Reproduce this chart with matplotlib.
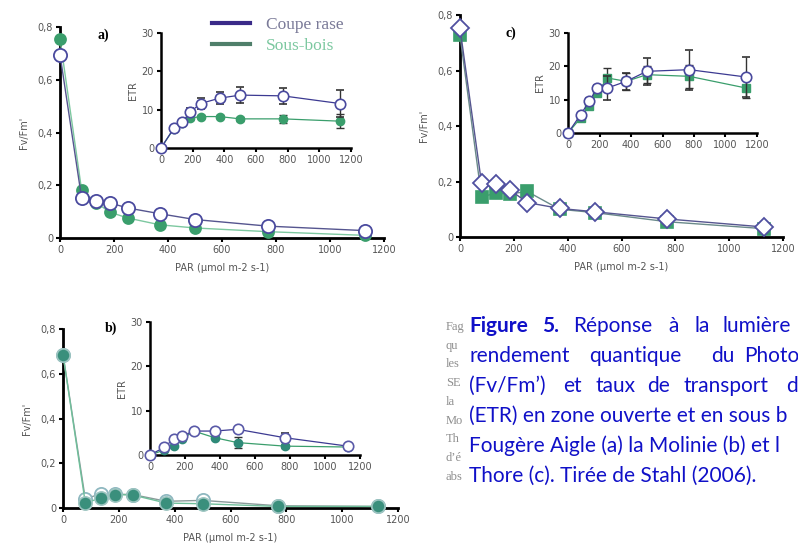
import matplotlib
matplotlib.use("Agg")
import matplotlib.pyplot as plt
import numpy as np

W, H = 798, 555

# data
par = [0, 80, 135, 185, 250, 370, 500, 770, 1130]

# a) Fougere aigle
a_fv_coupe = [0.695, 0.152, 0.14, 0.133, 0.114, 0.092, 0.07, 0.045, 0.028]
a_fv_sous = [0.755, 0.182, 0.133, 0.098, 0.076, 0.05, 0.038, 0.024, 0.01]
a_etr_coupe = [0, 5.1, 6.8, 9.4, 11.6, 13.0, 13.8, 13.6, 11.6]
a_etr_coupe_err = [0, 0.5, 0.5, 1, 1.5, 1.5, 2, 2, 3.5]
a_etr_sous = [0, 5.0, 6.5, 7.8, 8.2, 8.2, 7.6, 7.6, 7.0]
a_etr_sous_err = [0, 0.5, 0.5, 0.5, 0.5, 0.5, 0.5, 1, 1.8]

# b) Molinie
b_fv_coupe = [0.686, 0.04, 0.064, 0.062, 0.06, 0.03, 0.034, 0.01, 0.007]
b_fv_sous = [0.686, 0.022, 0.045, 0.06, 0.058, 0.022, 0.019, 0.007, 0.007]
b_etr_coupe = [0, 1.7, 3.6, 4.3, 5.4, 5.4, 5.8, 3.9, 2.0]
b_etr_coupe_err = [0, 0, 0, 0, 0, 0, 0.3, 1, 0.3]
b_etr_sous = [0, 1.1, 2.0, 3.6, 5.4, 3.9, 2.8, 2.0, 1.8]
b_etr_sous_err = [0, 0, 0, 0, 0, 0, 1.2, 0.5, 0.3]

# c) Thore
c_fv_coupe = [0.752, 0.194, 0.192, 0.17, 0.124, 0.103, 0.091, 0.065, 0.036]
c_fv_sous = [0.727, 0.145, 0.158, 0.155, 0.164, 0.1, 0.088, 0.055, 0.03]
c_etr_coupe = [0, 5.5, 9.5, 13.5, 13.5, 15.5, 18.5, 19.0, 16.8]
c_etr_coupe_err = [0, 0.5, 1, 1, 3.5, 2.5, 4, 6, 6]
c_etr_sous = [0, 4.5, 8.2, 12.0, 16.5, 15.5, 17.5, 17.0, 13.5]
c_etr_sous_err = [0, 0.5, 0.5, 1, 3, 2.5, 2.5, 3.5, 3]

fv_ticks = [0, 0.2, 0.4, 0.6, 0.8]
fv_labels = ["0", "0,2", "0,4", "0,6", "0,8"]
par_ticks = [0, 200, 400, 600, 800, 1000, 1200]
etr_ticks = [0, 10, 20, 30]

caption_words = [
    ["Figure", "5.", "Réponse", "à", "la", "lumière"],
    ["rendement", "quantique", "du", "Photo"],
    ["(Fv/Fm’)", "et", "taux", "de", "transport", "d"],
]
caption_lines = [
    "(ETR) en zone ouverte et en sous b",
    "Fougère Aigle (a) la Molinie (b) et l",
    "Thore (c). Tirée de Stahl (2006).",
]
side_words = ["Fag", "qu", "les", "SE", "la", "Mo", "Th", "d’é", "abs"]

COUPE = "#3c3a92"
SOUS = "#3a9e6c"
TICKC = "#555555"

fig = plt.figure(figsize=(W / 100, H / 100), dpi=100)


def px_axes(x0, x1, y0, y1):
    # x0/x1: pixel of xlim ends, y0: pixel of y=0, y1: pixel of top of ylim
    return fig.add_axes([x0 / W, 1 - y0 / H, (x1 - x0) / W, (y0 - y1) / H])


def style(ax, lw=2.0, fs=7):
    for s in ("top", "right"):
        ax.spines[s].set_visible(False)
    for s in ("left", "bottom"):
        ax.spines[s].set_linewidth(lw)
    ax.tick_params(direction="out", length=3, width=1.5, labelsize=fs,
                   labelcolor=TICKC, pad=2)
    ax.patch.set_alpha(0)


def main_panel(ax, fc, fs_, mk_c, mk_s, sous_col, coupe_col, line_c, line_s,
               sous_top=False, sous_edge=None):
    zs = 5 if sous_top else 3
    ax.plot(par, fs_, "-", color=line_s, lw=1, marker=mk_s,
            ms=9.5 if sous_top else 8, mfc=sous_col,
            mec=sous_edge or sous_col, mew=1.2, clip_on=False, zorder=zs)
    ax.plot(par, fc, "-", color=line_c, lw=1, marker=mk_c, ms=9.5,
            mfc="white", mec=coupe_col, mew=1.3, clip_on=False, zorder=4)
    ax.set_xlim(0, 1200)
    ax.set_ylim(0, 0.8)
    ax.set_xticks(par_ticks)
    ax.set_yticks(fv_ticks, fv_labels)
    ax.set_xlabel("PAR (µmol m-2 s-1)", fontsize=7, color=TICKC, labelpad=6)
    ax.set_ylabel("Fv/Fm'", fontsize=7, color=TICKC, labelpad=6)
    style(ax)


def inset_panel(ax, ec, ec_err, es, es_err, mk_c, mk_s, sous_col, coupe_col):
    ax.errorbar(par, es, yerr=es_err, fmt="-", color=SOUS, lw=0.9,
                marker=mk_s, ms=6, mfc=sous_col, mec=sous_col,
                ecolor="#333333", elinewidth=1, capsize=3, clip_on=False,
                zorder=3)
    ax.errorbar(par, ec, yerr=ec_err, fmt="-", color=COUPE, lw=0.9,
                marker=mk_c, ms=7.5, mfc="white", mec=coupe_col, mew=1.2,
                ecolor="#333333", elinewidth=1, capsize=3, clip_on=False,
                zorder=4)
    ax.set_xlim(0, 1200)
    ax.set_ylim(0, 30)
    ax.set_xticks(par_ticks)
    ax.set_yticks(etr_ticks)
    ax.set_ylabel("ETR", fontsize=7, color=TICKC, labelpad=3)
    style(ax, lw=1.8, fs=7)


# panel a
ax_a = px_axes(60, 384, 238, 27)
main_panel(ax_a, a_fv_coupe, a_fv_sous, "o", "o", SOUS, "#4a4a9e",
           "#55558f", "#7dc8a0")
ax_ai = px_axes(161, 351, 148, 33)
inset_panel(ax_ai, a_etr_coupe, a_etr_coupe_err, a_etr_sous, a_etr_sous_err,
            "o", "o", SOUS, "#4a4a9e")
fig.text(97 / W, 1 - 35 / H, "a)", fontsize=10, fontweight="bold",
         family="Liberation Serif", va="center")

# legend of panel a
ax_a.plot([], [], color="#3a2a88", lw=3, label="Coupe rase")
ax_a.plot([], [], color="#4f7f6a", lw=3, label="Sous-bois")
leg = fig.legend(handles=ax_a.get_lines()[-2:], loc="upper left",
                 bbox_to_anchor=(205 / W, 1 - 10 / H), frameon=False,
                 prop={"family": "Liberation Serif", "size": 12.5},
                 handlelength=2.2, handletextpad=0.9, labelspacing=0.25,
                 borderaxespad=0)
leg.get_texts()[0].set_color("#7a7a98")
leg.get_texts()[1].set_color("#7cc8a0")

# panel b
ax_b = px_axes(63, 398, 508, 329)
main_panel(ax_b, b_fv_coupe, b_fv_sous, "o", "o", "#3a8f7c", "#8fb8c0",
           "#8a9a9a", "#6fbf9a", sous_top=True, sous_edge="#9cc4c0")
ax_bi = px_axes(150, 360, 455, 322)
inset_panel(ax_bi, b_etr_coupe, b_etr_coupe_err, b_etr_sous, b_etr_sous_err,
            "o", "o", "#2f8a78", "#5a5aa8")
fig.text(105 / W, 1 - 328 / H, "b)", fontsize=10, fontweight="bold",
         family="Liberation Serif", va="center")

# panel c
ax_c = px_axes(460, 783, 237, 15)
main_panel(ax_c, c_fv_coupe, c_fv_sous, "D", "s", SOUS, "#5050a0",
           "#55558f", "#6a8a8a")
ax_ci = px_axes(568, 757, 133, 33)
inset_panel(ax_ci, c_etr_coupe, c_etr_coupe_err, c_etr_sous, c_etr_sous_err,
            "o", "s", SOUS, "#4a4a9e")
fig.text(505 / W, 1 - 33 / H, "c)", fontsize=10, fontweight="bold",
         family="Liberation Serif", va="center")

# caption block
BLUE = "#1010c8"
CAP_FS = 15
cap_x = 469
line_y = [326, 356, 386, 416, 446, 476]
word_x = [
    [469, 542, 573, 668, 694, 723],
    [469, 589, 711, 744],
    [469, 563, 595, 647, 683, 786],
]
for i, words in enumerate(caption_words):
    for j, wd in enumerate(words):
        bold = (i == 0 and j < 2)
        fig.text(word_x[i][j] / W, 1 - line_y[i] / H, wd, fontsize=CAP_FS,
                 family="Lato", color=BLUE, va="center",
                 fontweight="bold" if bold else "normal")
for k, ln in enumerate(caption_lines):
    fig.text(cap_x / W, 1 - line_y[3 + k] / H, ln, fontsize=CAP_FS,
             family="Lato", color=BLUE, va="center")
for k, wd in enumerate(side_words):
    fig.text(446 / W, 1 - (327 + k * 18.7) / H, wd, fontsize=9,
             family="Liberation Serif", color="#7a7a7a", va="center",
             ha="left", alpha=0.85)

fig.savefig("out.png", dpi=100)
